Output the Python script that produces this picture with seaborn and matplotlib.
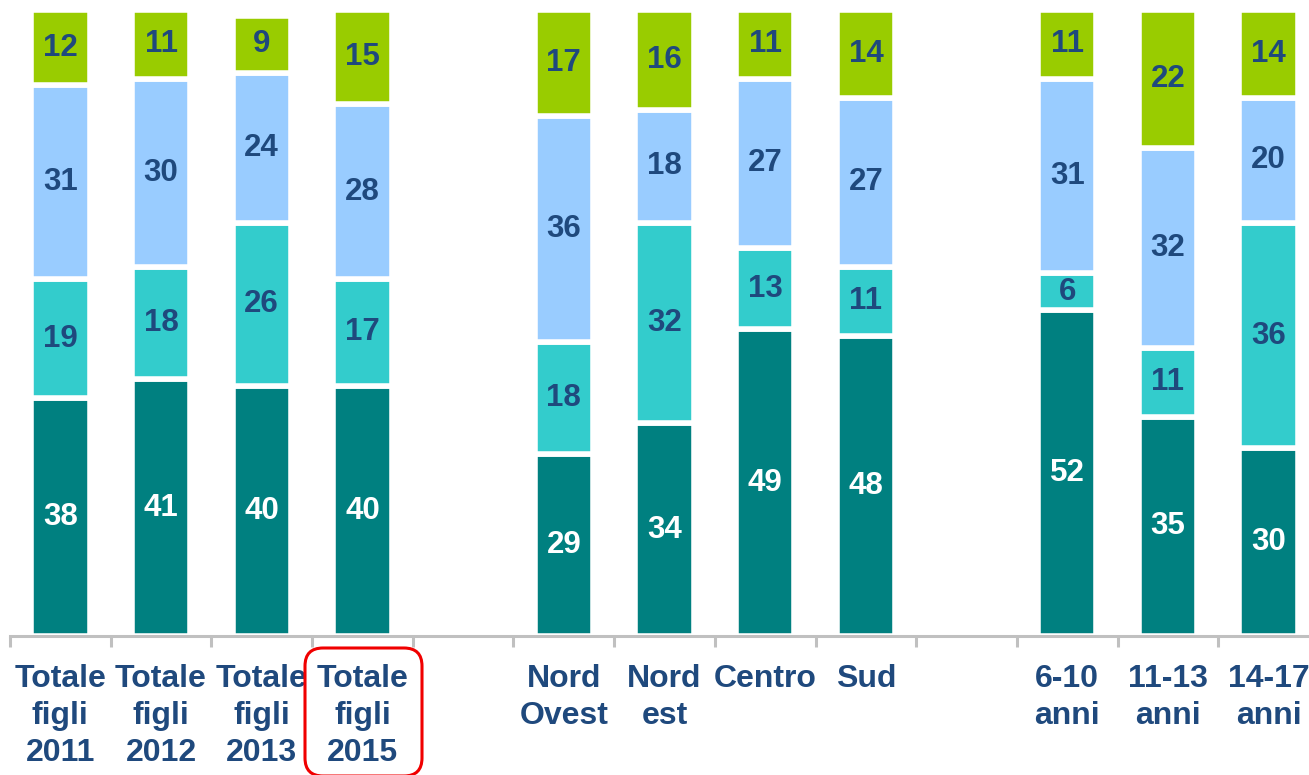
import numpy as np
import pandas as pd
import seaborn as sns
import matplotlib.pyplot as plt
from matplotlib.patches import FancyBboxPatch
from matplotlib.transforms import IdentityTransform

# Categories (blank entries are the empty gap slots)
categories = ['Totale\nfigli\n2011', 'Totale\nfigli\n2012', 'Totale\nfigli\n2013', 'Totale\nfigli\n2015',
              ' ',
              'Nord\nOvest', 'Nord\nest', 'Centro', 'Sud',
              '  ',
              '6-10\nanni', '11-13\nanni', '14-17\nanni']
bars = [c for c in categories if c.strip()]

# Stacked values, bottom to top
seg1 = [38, 41, 40, 40, 29, 34, 49, 48, 52, 35, 30]
seg2 = [19, 18, 26, 17, 18, 32, 13, 11, 6, 11, 36]
seg3 = [31, 30, 24, 28, 36, 18, 27, 27, 31, 32, 20]
seg4 = [12, 11, 9, 15, 17, 16, 11, 14, 11, 22, 14]

colors = ['#008080', '#33CCCC', '#99CCFF', '#99CC00']
text_colors = ['white', '#1F497D', '#1F497D', '#1F497D']
navy = '#1F497D'

df = pd.DataFrame({'cat': bars, 's1': seg1, 's2': seg2, 's3': seg3, 's4': seg4})

sns.set_style('white')
plt.rcParams['font.family'] = ['Liberation Sans', 'DejaVu Sans']

fig = plt.figure(figsize=(13.09, 7.75), dpi=100)
ax = fig.add_axes([10 / 1309, 1 - 636 / 775, 1.0, (636 - 10) / 775])

bottom = np.zeros(len(df))
for i, col in enumerate(['s1', 's2', 's3', 's4']):
    sns.barplot(data=df, x='cat', y=col, order=categories, color=colors[i],
                bottom=bottom, width=0.58, edgecolor='white', linewidth=4,
                saturation=1, ax=ax)
    for j, v in enumerate(df[col]):
        xpos = categories.index(df['cat'][j])
        ax.text(xpos, bottom[j] + v / 2, str(v), ha='center', va='center',
                fontsize=22.5, fontweight='bold', color=text_colors[i])
    bottom = bottom + df[col].values

ax.set_ylim(0, 100)
ax.set_xlim(-0.5, 12.5)
ax.set_xlabel('')
ax.set_ylabel('')
ax.set_yticks([])
for s in ['top', 'right', 'left']:
    ax.spines[s].set_visible(False)
ax.spines['bottom'].set_color('#C0C0C0')
ax.spines['bottom'].set_linewidth(2.2)

ax.set_xticks(range(len(categories)))
ax.set_xticklabels(categories, fontsize=23, fontweight='bold', color=navy, linespacing=1.3,
                   va='top')
ax.set_xticks(np.arange(-0.5, 13, 1), minor=True)
ax.tick_params(axis='x', which='major', bottom=True, length=0, pad=20)
ax.tick_params(axis='x', which='minor', bottom=True, length=8, width=2.2,
               color='#C0C0C0', direction='out')

# rounded red box around the 2015 label
box = FancyBboxPatch((305, -1), 117, 128, boxstyle='round,pad=0,rounding_size=18',
                     transform=IdentityTransform(), fill=False, edgecolor='#F00000',
                     linewidth=2.2, clip_on=False)
fig.patches.append(box)

plt.savefig('out.png', dpi=100)
plt.close()
